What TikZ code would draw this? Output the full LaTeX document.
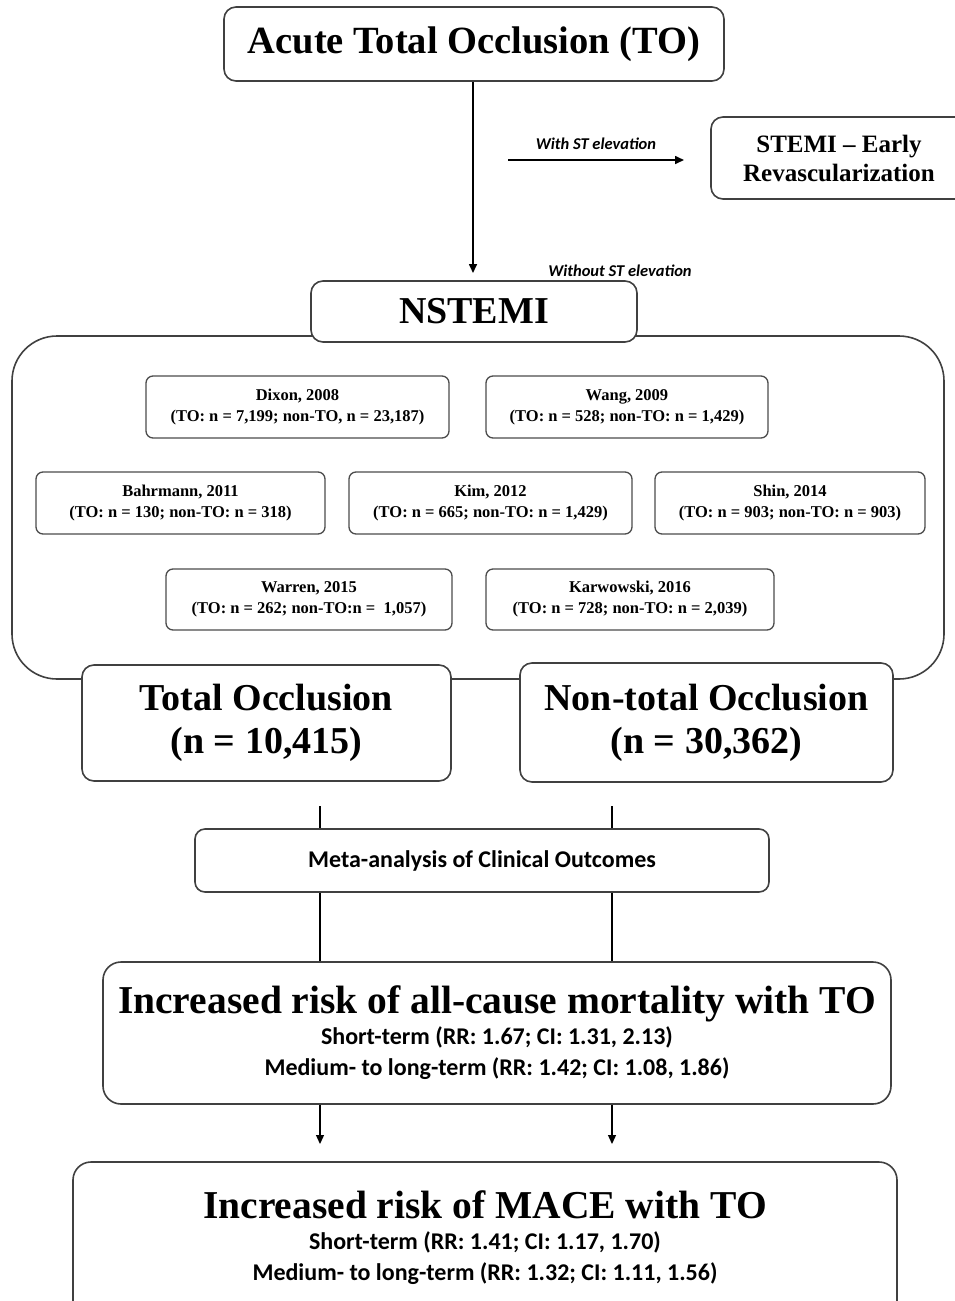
\documentclass[tikz,border=0pt]{standalone}
\usepackage{fontspec}
\setmainfont{Liberation Serif}
\newfontfamily\carl{Carlito}
\usetikzlibrary{arrows.meta}
\begin{document}
\begin{tikzpicture}[x=1pt,y=-1pt,
  box/.style={draw=black!75,line width=1.6pt,fill=white,rounded corners=12pt,inner sep=0pt,align=center,font=\bfseries},
  study/.style={draw=black!70,line width=1.3pt,fill=white,rounded corners=7pt,inner sep=0pt,align=center,font=\fontsize{16.5}{21}\selectfont\bfseries},
  conn/.style={draw=black,line width=1.6pt},
  arr/.style={conn,-{Triangle[length=9pt,width=8pt]}},
  lbl/.style={font=\carl\fontsize{16.5}{18}\selectfont\bfseries\itshape,inner sep=0pt}
]
\useasboundingbox (0,0) rectangle (954,1301);
% big container
\draw[draw=black!75,line width=1.6pt,rounded corners=45pt] (12,336) rectangle (944,679);

\node[box,minimum width=500pt,minimum height=74pt,font=\fontsize{38.5}{44}\selectfont\bfseries] (acute) at (474,44) {Acute Total Occlusion (TO)};
\node[box,minimum width=256pt,minimum height=82pt,font=\fontsize{25}{29}\selectfont\bfseries] (stemi) at (839,158) {STEMI -- Early\\Revascularization};
\node[box,minimum width=326pt,minimum height=61pt,font=\fontsize{38}{44}\selectfont\bfseries] (nstemi) at (474,311.5) {NSTEMI};

\coordinate (a1) at (508,160);
\coordinate (a2) at (684,160);
\coordinate (n1) at (473,273);
\draw[arr] (acute.south -| n1) -- (n1);
\draw[arr] (a1) -- (a2) node[lbl,midway,above=10pt] {With ST elevation};
\node[lbl] (without) at (620,271) {Without ST elevation};

\node[study,minimum width=303pt,minimum height=62pt] (dixon) at (297.5,407) {Dixon, 2008\\(TO: n = 7,199; non-TO, n = 23,187)};
\node[study,minimum width=282pt,minimum height=62pt] (wang) at (627,407) {Wang, 2009\\(TO: n = 528; non-TO: n = 1,429)};
\node[study,minimum width=289pt,minimum height=62pt] (bahr) at (180.5,503) {Bahrmann, 2011\\(TO: n = 130; non-TO: n = 318)};
\node[study,minimum width=283pt,minimum height=62pt] (kim) at (490.5,503) {Kim, 2012\\(TO: n = 665; non-TO: n = 1,429)};
\node[study,minimum width=270pt,minimum height=62pt] (shin) at (790,503) {Shin, 2014\\(TO: n = 903; non-TO: n = 903)};
\node[study,minimum width=286pt,minimum height=61pt] (warren) at (309,599.5) {Warren, 2015\\(TO: n = 262; non-TO:n =\ \ 1,057)};
\node[study,minimum width=288pt,minimum height=61pt] (karw) at (630,599.5) {Karwowski, 2016\\(TO: n = 728; non-TO: n = 2,039)};

\node[box,minimum width=369pt,minimum height=116pt,font=\fontsize{38}{43}\selectfont\bfseries] (tot) at (266.5,723) {Total Occlusion\\(n = 10,415)};
\node[box,minimum width=373pt,minimum height=119pt,font=\fontsize{38}{43}\selectfont\bfseries] (ntot) at (706.5,722.5) {Non-total Occlusion\\(n = 30,362)};

\node[box,minimum width=574pt,minimum height=63pt,rounded corners=10pt,font=\carl\fontsize{24}{28}\selectfont\bfseries] (meta) at (482,860.5) {Meta-analysis of Clinical Outcomes};

\node[box,minimum width=788pt,minimum height=142pt,rounded corners=18pt,font=\carl\fontsize{24}{31}\selectfont\bfseries] (mort) at (497,1033) {{\rmfamily\fontsize{39.5}{44}\selectfont Increased risk of all-cause mortality with TO}\\Short-term (RR: 1.67; CI: 1.31, 2.13)\\Medium- to long-term (RR: 1.42; CI: 1.08, 1.86)};
\node[box,minimum width=824pt,minimum height=160pt,rounded corners=18pt] (mace) at (485,1242) {};
\node[align=center,font=\carl\fontsize{24}{31}\selectfont\bfseries,inner sep=0pt] (macet) at (485,1238) {{\rmfamily\fontsize{39.5}{44}\selectfont Increased risk of MACE with TO}\\Short-term (RR: 1.41; CI: 1.17, 1.70)\\Medium- to long-term (RR: 1.32; CI: 1.11, 1.56)};

\coordinate (l1) at (320,806);
\coordinate (l2) at (612,806);
\draw[conn] (l1) -- (l1 |- meta.north);
\draw[conn] (l2) -- (l2 |- meta.north);
\draw[conn] (meta.south -| l1) -- (mort.north -| l1);
\draw[conn] (meta.south -| l2) -- (mort.north -| l2);
\coordinate (e1) at (320,1144);
\coordinate (e2) at (612,1144);
\draw[arr,line width=1.3pt] (mort.south -| e1) -- (e1);
\draw[arr,line width=1.3pt] (mort.south -| e2) -- (e2);
\end{tikzpicture}
\end{document}
